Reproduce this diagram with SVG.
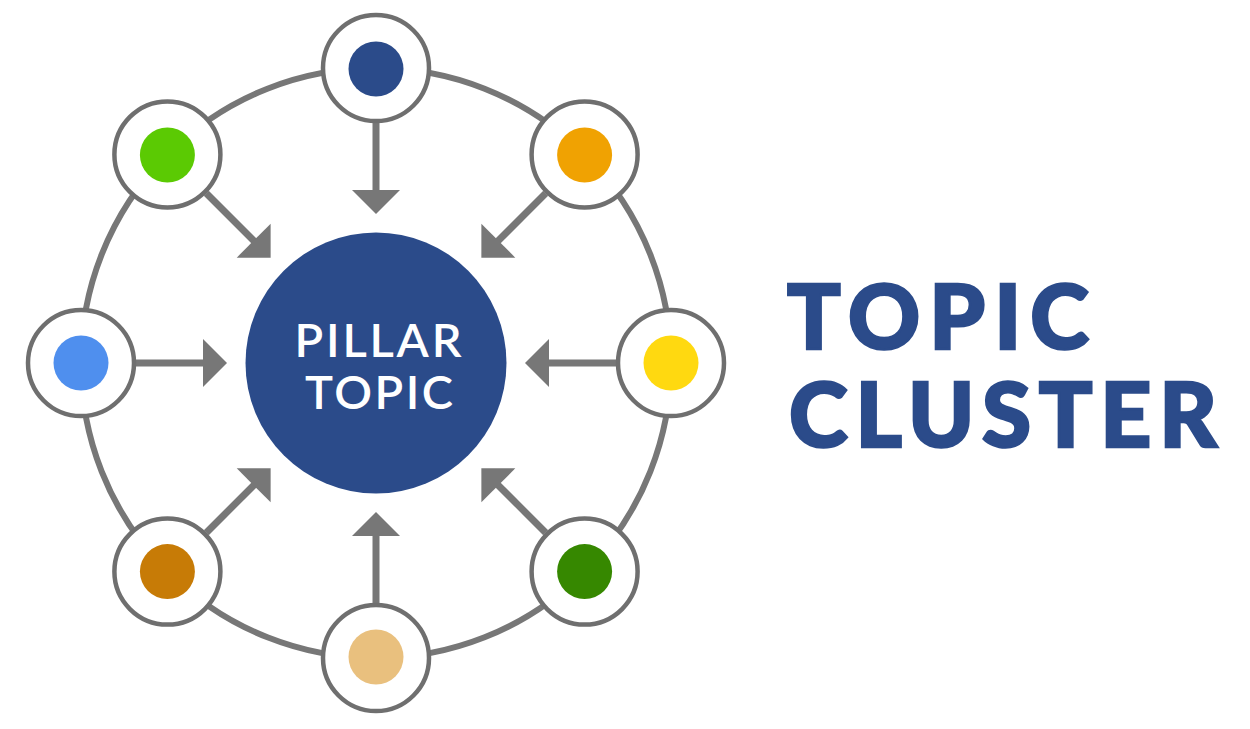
<svg xmlns="http://www.w3.org/2000/svg" width="1250" height="729" viewBox="0 0 1250 729">
<defs>
<style>
.ring{fill:none;stroke:#777;stroke-width:6}
.node{fill:#fff;stroke:#6f6f6f;stroke-width:4.5}
.shaft{stroke:#777;stroke-width:7;fill:none}
.head{fill:#777}
.center{fill:#2b4b8a}
.ctext{font-family:Lato,"Open Sans","Liberation Sans",sans-serif;font-weight:600;font-size:47px;fill:#fff;text-anchor:middle}
.title{font-family:Lato,"Liberation Sans",sans-serif;font-weight:900;font-size:89px;fill:#2b4b8a;stroke:#2b4b8a;stroke-width:2.6;stroke-linejoin:miter}
</style>
<g id="arrowShape">
<line class="shaft" x1="0" y1="-240" x2="0" y2="-170"/>
<polygon class="head" points="-24,-173 24,-173 0,-149"/>
</g>
</defs>
<rect width="1250" height="729" fill="#fff"/>
<circle class="ring" cx="376" cy="363" r="295"/>
<g id="connectors" transform="translate(376 363)">
<use href="#arrowShape" transform="rotate(0)"/>
<use href="#arrowShape" transform="rotate(45)"/>
<use href="#arrowShape" transform="rotate(90)"/>
<use href="#arrowShape" transform="rotate(135)"/>
<use href="#arrowShape" transform="rotate(180)"/>
<use href="#arrowShape" transform="rotate(225)"/>
<use href="#arrowShape" transform="rotate(270)"/>
<use href="#arrowShape" transform="rotate(315)"/>
</g>
<g id="pillar">
<circle class="center" cx="376" cy="363" r="130.5"/>
<text class="ctext" x="378" y="357" textLength="167">PILLAR</text>
<text class="ctext" x="379" y="409" textLength="148">TOPIC</text>
</g>
<g id="node-top"><circle class="node" cx="376" cy="68" r="53"/><circle cx="376" cy="69" r="27.5" fill="#2b4b8a"/></g>
<g id="node-top-right"><circle class="node" cx="584.6" cy="154.4" r="53"/><circle cx="584.6" cy="155" r="27.5" fill="#f0a202"/></g>
<g id="node-right"><circle class="node" cx="671" cy="363" r="53"/><circle cx="671" cy="363" r="27.5" fill="#ffd910"/></g>
<g id="node-bottom-right"><circle class="node" cx="584.6" cy="571.6" r="53"/><circle cx="584.6" cy="571.6" r="27.5" fill="#368800"/></g>
<g id="node-bottom"><circle class="node" cx="376" cy="658" r="53"/><circle cx="376" cy="657" r="27.5" fill="#e9c07e"/></g>
<g id="node-bottom-left"><circle class="node" cx="167.4" cy="571.6" r="53"/><circle cx="167.4" cy="571.6" r="27.5" fill="#c77b06"/></g>
<g id="node-left"><circle class="node" cx="81" cy="363" r="53"/><circle cx="81" cy="363" r="27.5" fill="#4f8fee"/></g>
<g id="node-top-left"><circle class="node" cx="167.4" cy="154.4" r="53"/><circle cx="167.4" cy="155" r="27.5" fill="#5bca03"/></g>
<g id="title">
<text class="title" x="787" y="349" textLength="302">TOPIC</text>
<text class="title" x="789" y="447" textLength="428">CLUSTER</text>
</g>
</svg>
